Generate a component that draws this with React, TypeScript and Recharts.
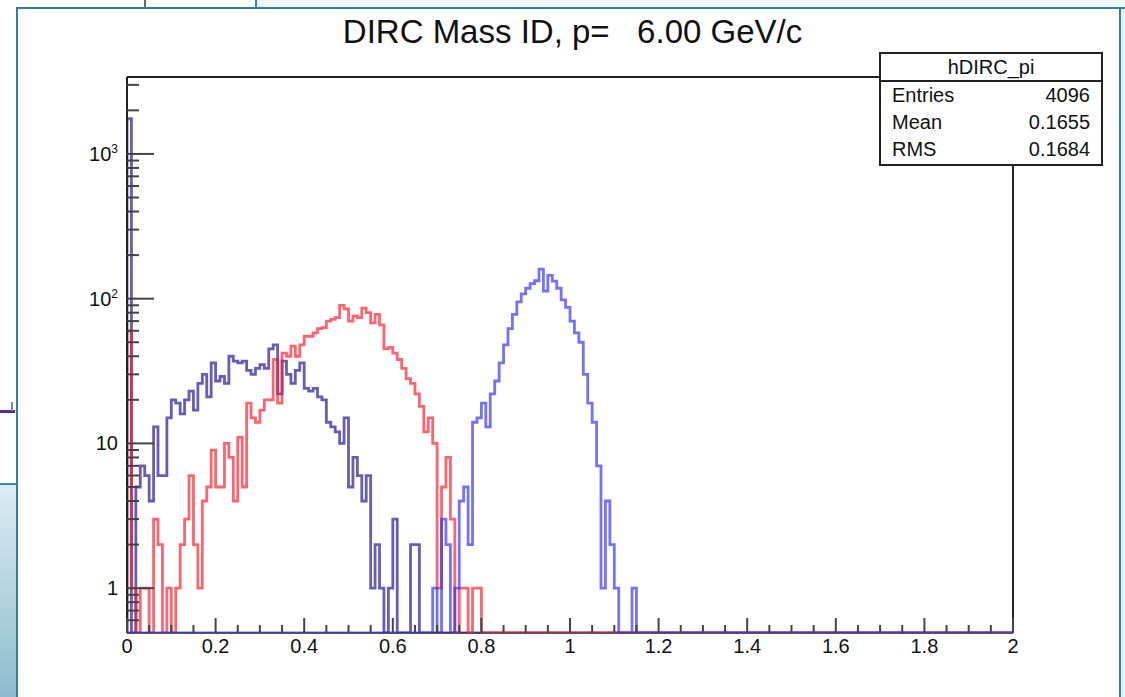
import { LineChart, Line, XAxis, YAxis, ReferenceLine } from 'recharts';

// ROOT-style histogram: three mass-ID hypotheses, 200 bins of 0.01 on [0, 2],
// log y axis. Counts; bins past the last listed value are empty.

const BIN_WIDTH = 0.01;
const N_BINS = 200;

const piCounts = [
  1750, 0, 5, 7, 6, 4, 13, 6, 6, 15,
  20, 19, 16, 20, 23, 17, 26, 30, 21, 36,
  27, 29, 26, 40, 37, 36, 37, 32, 30, 33,
  35, 33, 45, 48, 22, 37, 30, 26, 32, 36,
  24, 23, 24, 21, 20, 14, 13, 12, 10, 15,
  5, 8, 6, 4, 6, 1, 2, 1, 0, 1,
  3, 0, 0, 0, 2, 2,
];

const kaonCounts = [
  60, 1, 0, 1, 1, 0, 3, 2, 0, 1,
  0, 1, 2, 3, 6, 2, 1, 4, 5, 9,
  5, 5, 10, 8, 4, 11, 5, 19, 15, 14,
  17, 20, 20, 38, 19, 42, 40, 47, 40, 48,
  55, 55, 58, 62, 63, 70, 72, 74, 90, 85,
  70, 76, 74, 86, 80, 68, 78, 66, 45, 46,
  42, 38, 33, 28, 26, 22, 18, 12, 15, 10,
  1, 5, 8, 3, 0, 1, 1, 0, 1, 1,
];

const protonCounts = [
  0, 0, 0, 0, 0, 0, 0, 0, 0, 0,
  0, 0, 0, 0, 0, 0, 0, 0, 0, 0,
  0, 0, 0, 0, 0, 0, 0, 0, 0, 0,
  0, 0, 0, 0, 0, 0, 0, 0, 0, 0,
  0, 0, 0, 0, 0, 0, 0, 0, 0, 0,
  0, 0, 0, 0, 0, 0, 0, 0, 0, 0,
  0, 0, 0, 0, 0, 0, 0, 0, 0, 1,
  0, 3, 2, 0, 1, 4, 5, 2, 14, 15,
  19, 13, 22, 27, 36, 48, 62, 78, 95, 108,
  118, 127, 133, 160, 113, 145, 132, 118, 98, 87,
  70, 58, 50, 30, 19, 14, 7, 1, 4, 2,
  1, 0, 0, 0, 1,
];

const xMajorTicks = [0, 0.2, 0.4, 0.6, 0.8, 1, 1.2, 1.4, 1.6, 1.8, 2];
const xMajorLabels = ['0', '0.2', '0.4', '0.6', '0.8', '1', '1.2', '1.4', '1.6', '1.8', '2'];
const yMajorTicks = [1, 10, 100, 1000];
const yMajorLabels = [['1', ''], ['10', ''], ['10', '2'], ['10', '3']];

const Y_MIN = 0.49;
const Y_MAX = 3400;

const stats = [
  ['Entries', '4096'],
  ['Mean', '0.1655'],
  ['RMS', '0.1684'],
];

// ---- derived table for recharts ----
const at = (arr: number[], i: number) => (i < arr.length ? arr[i] : 0);
const floor = (v: number) => (v > 0 ? v : Y_MIN); // empty bins sit on the frame, as ROOT draws them

const rows: { x: number; pi: number; k: number; p: number }[] = [
  { x: 0, pi: Y_MIN, k: Y_MIN, p: Y_MIN },
];
for (let i = 0; i < N_BINS; i++) {
  rows.push({
    x: +(i * BIN_WIDTH).toFixed(2),
    pi: floor(at(piCounts, i)),
    k: floor(at(kaonCounts, i)),
    p: floor(at(protonCounts, i)),
  });
}
rows.push({ ...rows[rows.length - 1], x: N_BINS * BIN_WIDTH });

const xTicks: number[] = [];
for (let i = 0; i < xMajorTicks.length - 1; i++) {
  for (let j = 0; j < 4; j++) xTicks.push(+(xMajorTicks[i] + j * 0.05).toFixed(2));
}
xTicks.push(2);

const yTicks: number[] = [0.6, 0.7, 0.8, 0.9];
for (const d of yMajorTicks) {
  for (let m = 1; m <= 9; m++) {
    const v = d * m;
    if (v <= Y_MAX) yTicks.push(v);
  }
}

const FONT = '"Liberation Sans", Arial, Helvetica, sans-serif';
const AXIS = '#222';

const XTick = (props: any) => {
  const { x, y, payload } = props;
  const idx = xMajorTicks.findIndex((t) => Math.abs(t - payload.value) < 1e-6);
  const major = idx >= 0;
  return (
    <g>
      <line x1={x} x2={x} y1={y} y2={y - (major ? 15 : 8)} stroke="#444" strokeWidth={2} />
      {major && (
        <text x={x} y={y + 20} textAnchor="middle" fontSize={20} fill="#111" fontFamily={FONT}>
          {xMajorLabels[idx]}
        </text>
      )}
    </g>
  );
};

const YTick = (props: any) => {
  const { x, y, payload } = props;
  const idx = yMajorTicks.findIndex((t) => Math.abs(t - payload.value) < 1e-6);
  const major = idx >= 0;
  const [base, sup] = major ? yMajorLabels[idx] : ['', ''];
  return (
    <g>
      <line x1={x} x2={x + (major ? 27 : 12)} y1={y} y2={y} stroke="#444" strokeWidth={2} />
      {major && (
        <text x={x - 9} y={y + 7} textAnchor="end" fontSize={20} fill="#111" fontFamily={FONT}>
          {base}
          {sup && (
            <tspan fontSize={12} dy={-8}>
              {sup}
            </tspan>
          )}
        </text>
      )}
    </g>
  );
};

export default function App() {
  return (
    <div
      style={{
        position: 'fixed',
        left: 0,
        top: 0,
        width: 1125,
        height: 697,
        background: '#fff',
        overflow: 'hidden',
        fontFamily: FONT,
      }}
    >
      {/* window edges around the canvas */}
      <div style={{ position: 'absolute', left: 0, top: 0, width: 17, height: 484, background: '#fff' }} />
      <div style={{ position: 'absolute', left: 0, top: 410, width: 15, height: 3, background: '#5a2a9a' }} />
      <div style={{ position: 'absolute', left: 11, top: 402, width: 2, height: 9, background: '#888' }} />
      <div
        style={{
          position: 'absolute',
          left: 0,
          top: 485,
          width: 17,
          height: 212,
          background: 'linear-gradient(#dcecf2, #8dbccd)',
        }}
      />
      <div style={{ position: 'absolute', left: 0, top: 483, width: 17, height: 2, background: '#3b87a8' }} />
      <div style={{ position: 'absolute', left: 257, top: 0, width: 868, height: 7, background: '#eef6fb' }} />
      <div style={{ position: 'absolute', left: 144, top: 0, width: 2, height: 7, background: '#666' }} />
      <div style={{ position: 'absolute', left: 255, top: 0, width: 2, height: 7, background: '#3b87a8' }} />
      <div style={{ position: 'absolute', left: 1121, top: 7, width: 4, height: 690, background: '#e6f2f8' }} />
      <div style={{ position: 'absolute', left: 16, top: 7, width: 2, height: 690, background: '#2f80a3' }} />
      <div style={{ position: 'absolute', left: 16, top: 7, width: 1109, height: 2, background: '#2f80a3' }} />
      <div style={{ position: 'absolute', left: 1119, top: 7, width: 2, height: 690, background: '#2f80a3' }} />

      <div style={{ position: 'absolute', left: 18, top: 9 }}>
        <LineChart
          width={1101}
          height={688}
          data={rows}
          margin={{ top: 68, right: 106, bottom: 0, left: 0 }}
        >
          <XAxis
            dataKey="x"
            type="number"
            domain={[0, 2]}
            ticks={xTicks}
            interval={0}
            height={64}
            tickSize={0}
            tickMargin={0}
            tick={<XTick />}
            tickLine={false}
            axisLine={false}
            allowDataOverflow
          />
          <YAxis
            type="number"
            scale="log"
            domain={[Y_MIN, Y_MAX]}
            ticks={yTicks}
            interval={0}
            width={109}
            tickSize={0}
            tickMargin={0}
            tick={<YTick />}
            tickLine={false}
            axisLine={{ stroke: AXIS, strokeWidth: 2 }}
            allowDataOverflow
          />
          <ReferenceLine y={Y_MAX} stroke={AXIS} strokeWidth={2} />
          <ReferenceLine x={2} stroke={AXIS} strokeWidth={2} />
          <ReferenceLine y={Y_MIN} stroke={AXIS} strokeWidth={1.5} />
          <Line
            type="stepAfter"
            dataKey="pi"
            stroke="#2b1f9e"
            strokeOpacity={0.72}
            strokeWidth={2.8}
            dot={false}
            isAnimationActive={false}
          />
          <Line
            type="stepAfter"
            dataKey="k"
            stroke="#ff1a2a"
            strokeOpacity={0.68}
            strokeWidth={2.8}
            dot={false}
            isAnimationActive={false}
          />
          <Line
            type="stepAfter"
            dataKey="p"
            stroke="#2f2fff"
            strokeOpacity={0.68}
            strokeWidth={2.8}
            dot={false}
            isAnimationActive={false}
          />
        </LineChart>
      </div>

      {/* title */}
      <div
        style={{
          position: 'absolute',
          left: 0,
          width: 1145,
          top: 13,
          textAlign: 'center',
          fontSize: 33,
          color: '#111',
          whiteSpace: 'pre',
        }}
      >
        {'DIRC Mass ID, p=   6.00 GeV/c'}
      </div>

      {/* stats box */}
      <div
        style={{
          position: 'absolute',
          left: 879,
          top: 52,
          width: 220,
          height: 110,
          border: '2px solid #222',
          background: '#fff',
          fontSize: 20,
          color: '#111',
          lineHeight: '27px',
        }}
      >
        <div style={{ textAlign: 'center', borderBottom: '2px solid #222', height: 26, lineHeight: '26px' }}>
          hDIRC_pi
        </div>
        {stats.map(([k, v]) => (
          <div key={k} style={{ display: 'flex', justifyContent: 'space-between', padding: '0 11px 0 11px' }}>
            <span>{k}</span>
            <span>{v}</span>
          </div>
        ))}
      </div>
    </div>
  );
}
